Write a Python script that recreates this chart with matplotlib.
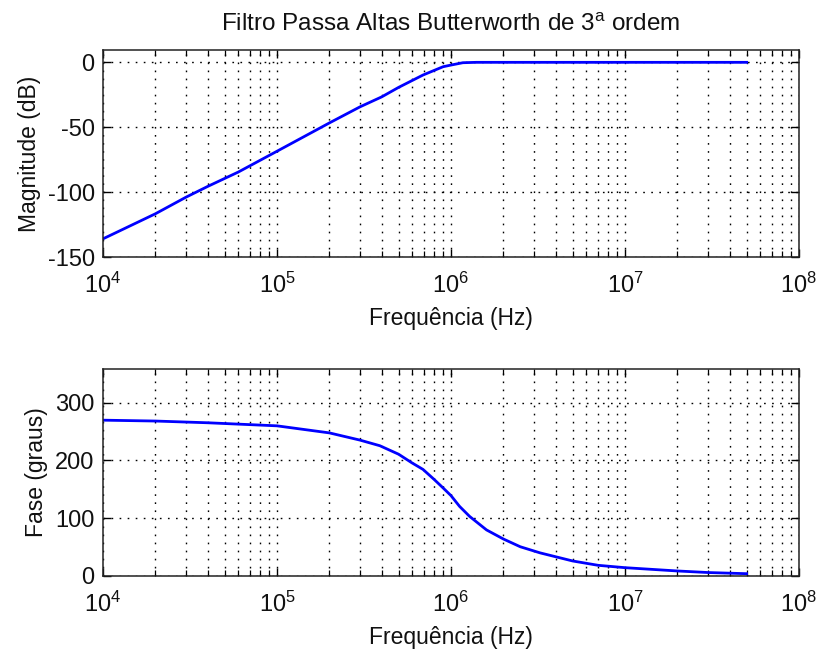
import matplotlib
matplotlib.use("Agg")
import matplotlib.pyplot as plt
from matplotlib.ticker import LogLocator, FixedLocator, NullFormatter

plt.rcParams['font.family'] = ['Liberation Sans', 'DejaVu Sans']
plt.rcParams['mathtext.fontset'] = 'custom'
plt.rcParams['mathtext.rm'] = 'Liberation Sans'
plt.rcParams['mathtext.it'] = 'Liberation Sans'
plt.rcParams['mathtext.bf'] = 'Liberation Sans'
plt.rcParams['axes.unicode_minus'] = False

# ---- data ----
mag_freq = [1e4, 2e4, 3e4, 4e4, 6e4, 1e5, 2e5, 3e5, 4e5, 5e5, 6.9e5, 9e5,
            1e6, 1.17e6, 1.4e6, 2e6, 5e6, 1e7, 5e7]
mag_db = [-136, -116.7, -103.9, -95.6, -84.5, -68.5, -46.7, -34.3, -26.6,
          -19.3, -9.8, -3.4, -2.1, -0.3, 0, 0, 0, 0, 0]

phase_freq = [1e4, 2e4, 4e4, 1e5, 2e5, 3e5, 3.9e5, 5e5, 5.94e5, 6.9e5, 8e5,
              9e5, 1e6, 1.12e6, 1.28e6, 1.6e6, 2e6, 2.5e6, 3.25e6, 5e6, 7e6,
              1e7, 2e7, 3e7, 5e7]
phase_deg = [269.5, 268, 265, 259.7, 247.5, 235, 225.3, 210.6, 196, 184.4,
             167, 152.4, 139, 120.4, 103, 79.7, 64, 50.6, 40, 26, 18.5,
             14.4, 8.7, 6, 4]

mag_yticks = [-150, -100, -50, 0]
phase_yticks = [0, 100, 200, 300]

title = "Filtro Passa Altas Butterworth de 3$^{\\mathrm{a}}$ ordem"
xlabel = "Frequência (Hz)"
ylabel_mag = "Magnitude (dB)"
ylabel_phase = "Fase (graus)"

W, H = 817, 653
fig = plt.figure(figsize=(W / 100, H / 100), dpi=100)

def rect(l, t, r, b):
    return [l / W, 1 - b / H, (r - l) / W, (b - t) / H]

ax1 = fig.add_axes(rect(103, 50, 799, 257))
ax2 = fig.add_axes(rect(103, 369, 799, 576))

TICK_FS = 17
LAB_FS = 16.5
GRID_LS = (0, (1.2, 4.6))

def style(ax, yticks, ylim):
    ax.set_xscale('log')
    ax.set_xlim(1e4, 1e8)
    ax.set_ylim(*ylim)
    ax.yaxis.set_major_locator(FixedLocator(yticks))
    ax.xaxis.set_major_locator(LogLocator(base=10, numticks=10))
    ax.xaxis.set_minor_locator(LogLocator(base=10, subs=range(2, 10), numticks=50))
    ax.xaxis.set_minor_formatter(NullFormatter())
    ax.tick_params(which='both', direction='in', top=True, right=True,
                   labelsize=TICK_FS, colors='black', labelcolor='#111111')
    ax.tick_params(which='major', length=5.5, width=1.0)
    ax.tick_params(which='minor', length=4.5, width=0.9)
    ax.tick_params(axis='x', which='major', pad=11)
    ax.tick_params(axis='y', which='major', pad=6)
    ax.grid(True, which='major', axis='both', linestyle=GRID_LS, color='black', linewidth=1.0)
    ax.grid(True, which='minor', axis='x', linestyle=GRID_LS, color='black', linewidth=1.0)
    for s in ax.spines.values():
        s.set_linewidth(1.1)
        s.set_color('#222222')
    ax.set_xlabel(xlabel, fontsize=LAB_FS, labelpad=7, color='#111111')

style(ax1, mag_yticks, (-150, 9.5))
style(ax2, phase_yticks, (0, 358))

ax1.plot(mag_freq, mag_db, color=(0, 0, 1), linewidth=2.0)
ax2.plot(phase_freq, phase_deg, color=(0, 0, 1), linewidth=2.0)

ax1.set_ylabel(ylabel_mag, fontsize=LAB_FS, labelpad=5, color='#111111')
ax2.set_ylabel(ylabel_phase, fontsize=LAB_FS, labelpad=5, color='#111111')
ax1.set_title(title, fontsize=17.5, pad=14, color='#111111')

fig.savefig("out.png", dpi=100)
